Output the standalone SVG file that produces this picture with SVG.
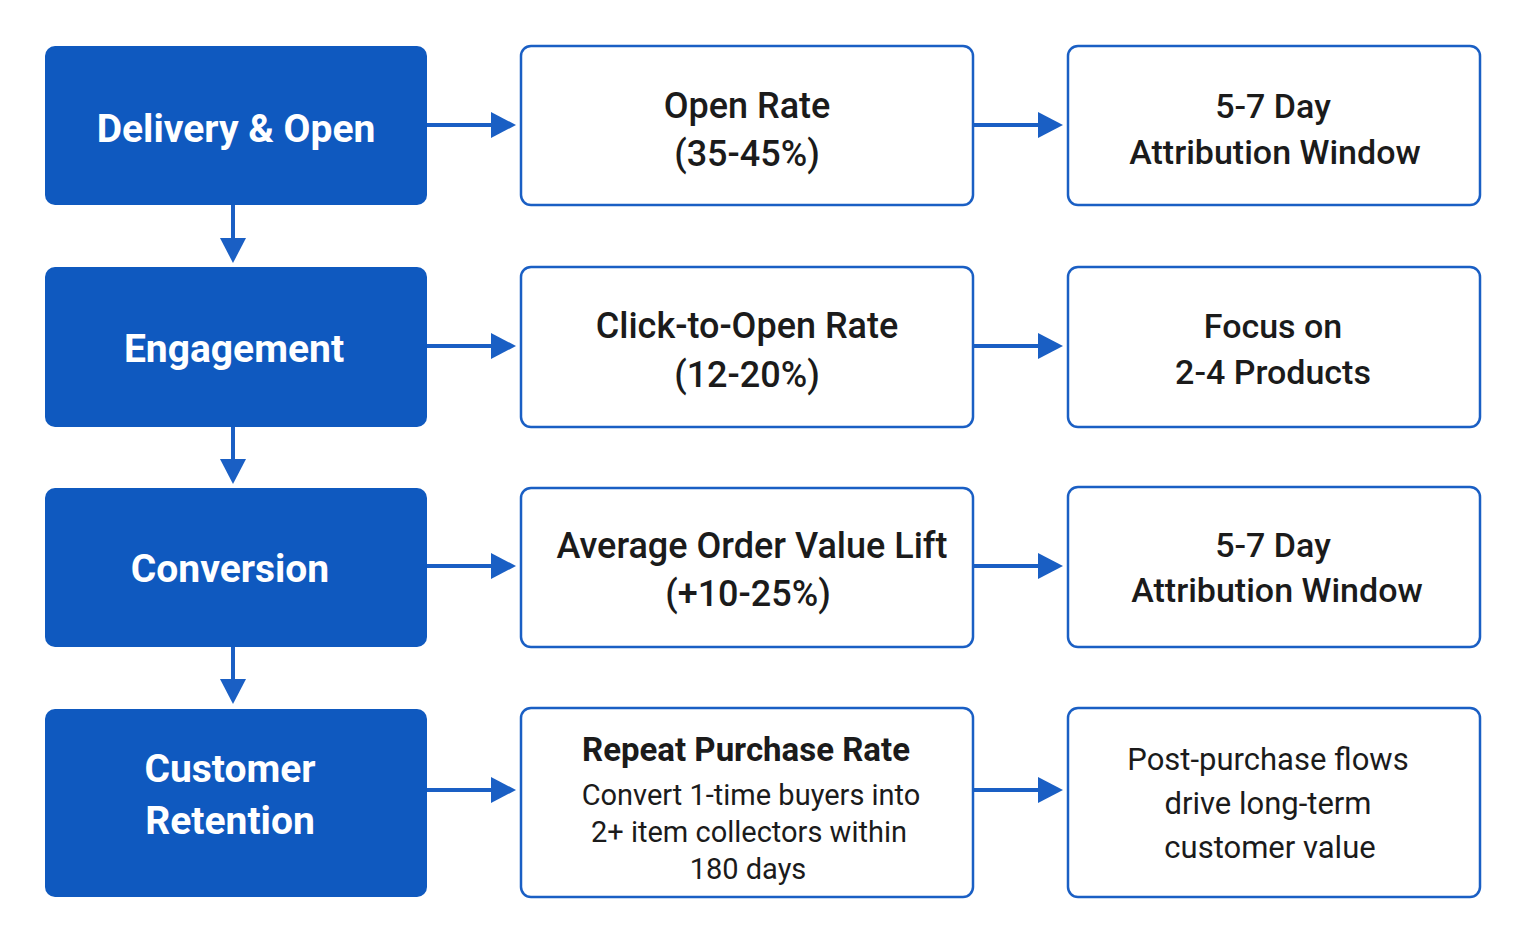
<svg xmlns="http://www.w3.org/2000/svg" width="1525" height="945" viewBox="0 0 1525 945">
<defs>
<style>
.l{fill:#0f59bf;}
.b{fill:#fff;stroke:#1a5fc4;stroke-width:2.5;}
.lt{fill:#fff;font-family:Roboto,"Liberation Sans",sans-serif;font-weight:700;font-size:39px;text-anchor:middle;}
.t{fill:#1b1b1b;font-family:Roboto,"Liberation Sans",sans-serif;font-weight:500;font-size:36px;text-anchor:middle;}
.s{fill:#1b1b1b;font-family:Roboto,"Liberation Sans",sans-serif;font-weight:400;font-size:29px;text-anchor:middle;}
.c{stroke:#1a5fc4;stroke-width:4;fill:none;marker-end:url(#a);}
</style>
<marker id="a" markerWidth="8" markerHeight="8" refX="6" refY="4" orient="auto" markerUnits="userSpaceOnUse" viewBox="0 0 8 8"><path d="M0,0L8,4L0,8z" fill="#1a5fc4"/></marker>
<marker id="a2" viewBox="0 0 10 10" refX="9" refY="5" markerWidth="6" markerHeight="7" orient="auto"><path d="M0,0L10,5L0,10z" fill="#1a5fc4"/></marker>
</defs>
<rect width="1525" height="945" fill="#fff"/>
<g id="connectors" stroke="#1a5fc4" stroke-width="4" fill="#1a5fc4">
<line x1="427" y1="125" x2="495" y2="125"/><path d="M491,112L516,125L491,138z" stroke="none"/>
<line x1="427" y1="346" x2="495" y2="346"/><path d="M491,333L516,346L491,359z" stroke="none"/>
<line x1="427" y1="566" x2="495" y2="566"/><path d="M491,553L516,566L491,579z" stroke="none"/>
<line x1="427" y1="790" x2="495" y2="790"/><path d="M491,777L516,790L491,803z" stroke="none"/>
<line x1="973" y1="125" x2="1042" y2="125"/><path d="M1038,112L1063,125L1038,138z" stroke="none"/>
<line x1="973" y1="346" x2="1042" y2="346"/><path d="M1038,333L1063,346L1038,359z" stroke="none"/>
<line x1="973" y1="566" x2="1042" y2="566"/><path d="M1038,553L1063,566L1038,579z" stroke="none"/>
<line x1="973" y1="790" x2="1042" y2="790"/><path d="M1038,777L1063,790L1038,803z" stroke="none"/>
<line x1="233" y1="205" x2="233" y2="242"/><path d="M220,238L233,263L246,238z" stroke="none"/>
<line x1="233" y1="427" x2="233" y2="463"/><path d="M220,459L233,484L246,459z" stroke="none"/>
<line x1="233" y1="647" x2="233" y2="683"/><path d="M220,679L233,704L246,679z" stroke="none"/>
</g>
<g id="n1"><rect class="l" x="45" y="46" width="382" height="159" rx="10"/><text class="lt" x="236" y="142">Delivery &amp; Open</text></g>
<g id="n2"><rect class="l" x="45" y="267" width="382" height="160" rx="10"/><text class="lt" x="234" y="362">Engagement</text></g>
<g id="n3"><rect class="l" x="45" y="488" width="382" height="159" rx="10"/><text class="lt" x="230" y="582">Conversion</text></g>
<g id="n4"><rect class="l" x="45" y="709" width="382" height="188" rx="10"/><text class="lt" x="230" y="782">Customer</text><text class="lt" x="230" y="834">Retention</text></g>
<g id="m1"><rect class="b" x="521" y="46" width="452" height="159" rx="10"/><text class="t" x="747" y="118">Open Rate</text><text class="t" x="747" y="166">(35-45%)</text></g>
<g id="m2"><rect class="b" x="521" y="267" width="452" height="160" rx="10"/><text class="t" x="747" y="338">Click-to-Open Rate</text><text class="t" x="747" y="387">(12-20%)</text></g>
<g id="m3"><rect class="b" x="521" y="488" width="452" height="159" rx="10"/><text class="t" x="752" y="558">Average Order Value Lift</text><text class="t" x="748" y="606">(+10-25%)</text></g>
<g id="m4"><rect class="b" x="521" y="708" width="452" height="189" rx="10"/><text class="t" x="746" y="761" style="font-weight:700;font-size:33px">Repeat Purchase Rate</text><text class="s" x="751" y="805">Convert 1-time buyers into</text><text class="s" x="749" y="842">2+ item collectors within</text><text class="s" x="748" y="879">180 days</text></g>
<g id="r1"><rect class="b" x="1068" y="46" width="412" height="159" rx="10"/><text class="t" x="1273" y="118" style="font-size:34px">5-7 Day</text><text class="t" x="1275" y="164" style="font-size:34px">Attribution Window</text></g>
<g id="r2"><rect class="b" x="1068" y="267" width="412" height="160" rx="10"/><text class="t" x="1273" y="338" style="font-size:34px">Focus on</text><text class="t" x="1273" y="384" style="font-size:34px">2-4 Products</text></g>
<g id="r3"><rect class="b" x="1068" y="487" width="412" height="160" rx="10"/><text class="t" x="1273" y="557" style="font-size:34px">5-7 Day</text><text class="t" x="1277" y="602" style="font-size:34px">Attribution Window</text></g>
<g id="r4"><rect class="b" x="1068" y="708" width="412" height="189" rx="10"/><text class="s" x="1268" y="770" style="font-size:31px">Post-purchase flows</text><text class="s" x="1268" y="814" style="font-size:31px">drive long-term</text><text class="s" x="1270" y="858" style="font-size:31px">customer value</text></g>
</svg>
